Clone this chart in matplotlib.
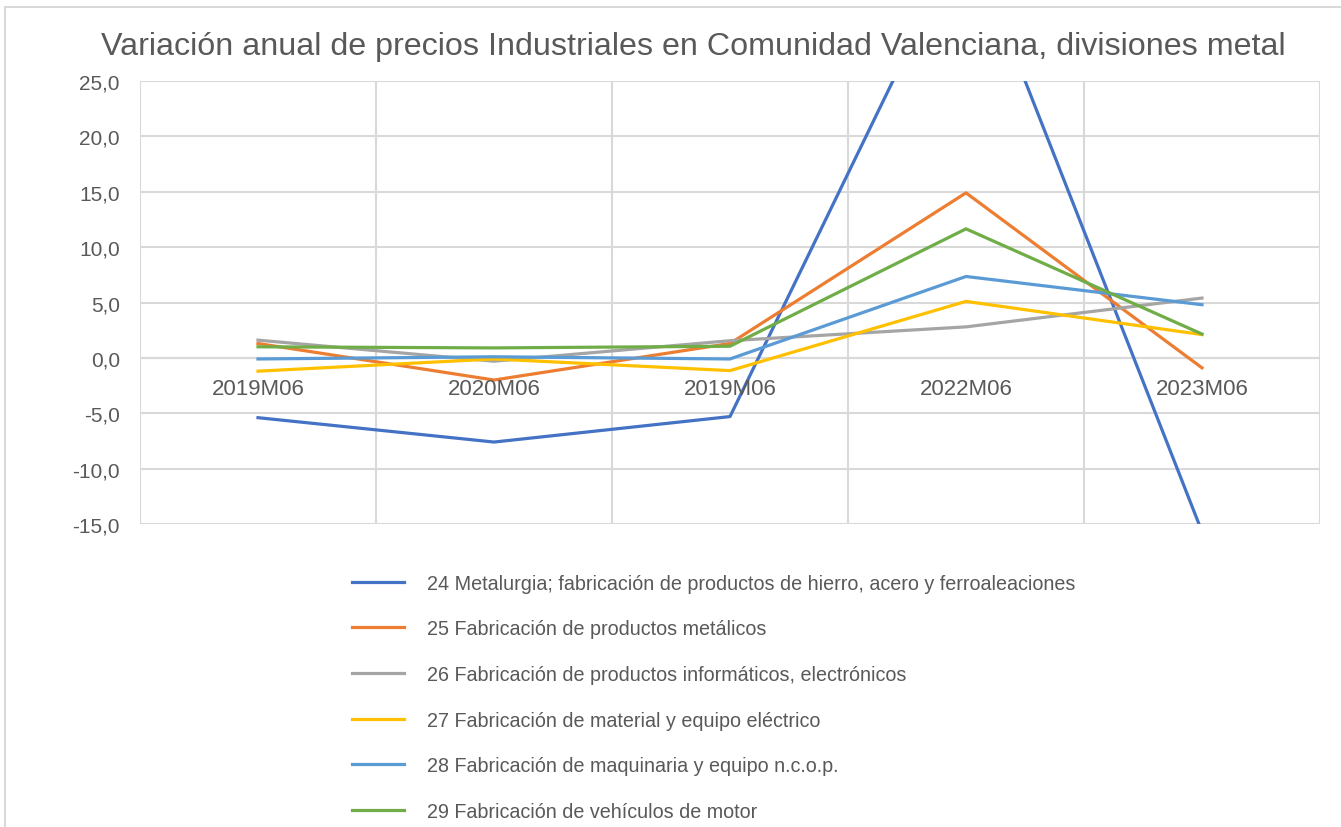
import matplotlib
matplotlib.use("Agg")
import matplotlib.pyplot as plt
from matplotlib.patches import Rectangle
from matplotlib.ticker import FuncFormatter, MultipleLocator

plt.rcParams['font.family'] = ['Liberation Sans', 'DejaVu Sans']

categories = ["2019M06", "2020M06", "2019M06", "2022M06", "2023M06"]
series_names = [
    "24 Metalurgia; fabricación de productos de hierro, acero y ferroaleaciones",
    "25 Fabricación de productos metálicos",
    "26 Fabricación de productos informáticos, electrónicos",
    "27 Fabricación de material y equipo eléctrico",
    "28 Fabricación de maquinaria y equipo n.c.o.p.",
    "29 Fabricación de vehículos de motor",
]
s24 = [-5.4, -7.6, -5.3, 38.6, -15.7]
s25 = [1.3, -2.0, 1.3, 14.9, -0.9]
s26 = [1.6, -0.3, 1.55, 2.8, 5.4]
s27 = [-1.2, -0.1, -1.15, 5.1, 2.1]
s28 = [-0.1, 0.1, -0.1, 7.35, 4.8]
s29 = [1.0, 0.9, 1.05, 11.65, 2.15]
series_values = [s24, s25, s26, s27, s28, s29]
colors = ["#4472C4", "#ED7D31", "#A5A5A5", "#FFC000", "#5B9BD5", "#70AD47"]

title = "Variación anual de precios Industriales en Comunidad Valenciana, divisiones metal"
text_color = "#595959"
grid_color = "#D9D9D9"

W, H = 1341, 828
fig = plt.figure(figsize=(W / 100, H / 100), dpi=100)
fig.patch.set_facecolor("white")

# chart border
fig.patches.append(Rectangle((5 / W, -0.05), 1.1, (H - 8) / H + 0.05,
                             transform=fig.transFigure, fill=False,
                             edgecolor=grid_color, linewidth=1.5))

left, right, top, bottom = 140, 1320, 82, 525
ax = fig.add_axes([left / W, 1 - bottom / H, (right - left) / W, (bottom - top) / H])

x = list(range(len(categories)))
lines = []
for vals, c, name in zip(series_values, colors, series_names):
    ln, = ax.plot(x, vals, color=c, linewidth=2.3, label=name, zorder=3,
                  solid_joinstyle='round')
    lines.append(ln)

ax.set_xlim(-0.5, len(categories) - 0.5)
ax.set_ylim(-15, 25)
ax.yaxis.set_major_locator(MultipleLocator(5))
ax.yaxis.set_major_formatter(FuncFormatter(lambda v, p: f"{v:.1f}".replace(".", ",")))
ax.set_xticks([i - 0.5 for i in range(len(categories) + 1)])
ax.set_xticklabels([])
ax.tick_params(axis='both', length=0, labelsize=15, colors=text_color, pad=14.5)
ax.tick_params(axis='x', pad=0)
ax.grid(True, color=grid_color, linewidth=1.5, zorder=0)
for s in ax.spines.values():
    s.set_visible(False)
ax.axhline(0, color="#BFBFBF", linewidth=1.5, zorder=1)

for i, cat in enumerate(categories):
    ax.text(i, -2.8, cat, ha='center', va='center', fontsize=16, color=text_color, zorder=4)

fig.text(0.5 * (107 + 1280) / W, 1 - 47 / H, title, ha='center', va='center',
         fontsize=23.2, color=text_color)

leg = fig.legend(handles=lines, loc='upper left', bbox_to_anchor=(334 / W, 1 - 557 / H),
                 frameon=False, fontsize=14.2, labelspacing=1.35, handlelength=2.65,
                 handletextpad=1.17, labelcolor=text_color)

fig.savefig("out.png", dpi=100, facecolor="white")
